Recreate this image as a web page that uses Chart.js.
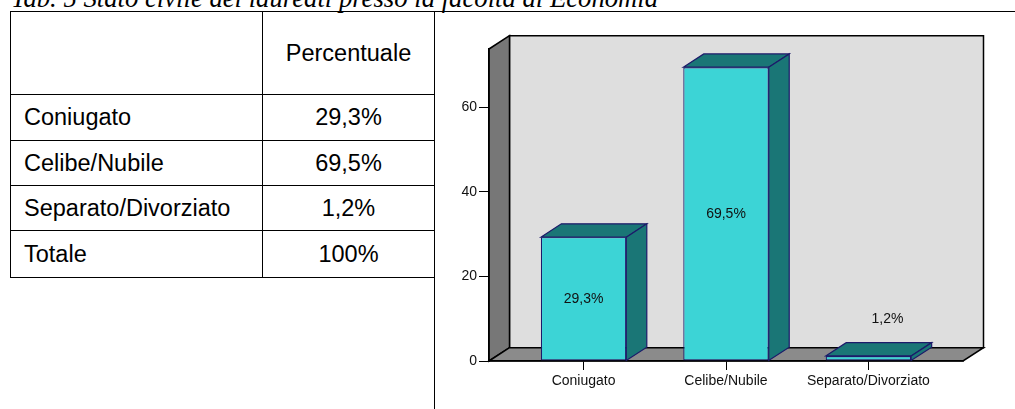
<!DOCTYPE html>
<html lang="it">
<head>
<meta charset="utf-8">
<title>Stato civile dei laureati</title>
<script src="https://cdn.jsdelivr.net/npm/chart.js@4.4.1/dist/chart.umd.min.js"></script>
<style>
  html, body { margin: 0; padding: 0; background: #fff; }
  body { width: 1015px; height: 409px; position: relative; overflow: hidden; }
  #title {
    position: absolute; left: 11px; top: -15px;
    font: italic 26.7px/27px "Liberation Serif", "Times New Roman", serif;
    white-space: nowrap; color: #000;
  }
  .rule { position: absolute; background: #000; }
  #tab {
    position: absolute; left: 10px; top: 11px;
    border-collapse: collapse; table-layout: fixed;
    font: 23.5px "Liberation Sans", Arial, sans-serif; color: #000;
  }
  #tab td { border: 1px solid #000; padding: 0; vertical-align: middle; }
  #tab td.lbl { padding-left: 13px; }
  #tab td.val { text-align: center; }
  #chart { position: absolute; left: 0; top: 0; pointer-events: none; }
</style>
</head>
<body>
<div id="title">Tab. 5 Stato civile dei laureati presso la facoltà di Economia</div>
<div class="rule" style="left:10px;top:11px;width:1005px;height:1px"></div>
<div class="rule" style="left:434px;top:11px;width:1px;height:398px"></div>
<table id="tab">
  <colgroup><col style="width:252px"><col style="width:172px"></colgroup>
  <tbody id="tab-body"></tbody>
</table>
<canvas id="chart" width="1015" height="409"></canvas>
<script>
// --- Data ---
const categories = ['Coniugato', 'Celibe/Nubile', 'Separato/Divorziato'];
const percentValues = [29.3, 69.5, 1.2];
const valueLabels = ['29,3%', '69,5%', '1,2%'];
const tableHeader = ['', 'Percentuale'];
const tableRows = [
    ['Coniugato', '29,3%'],
    ['Celibe/Nubile', '69,5%'],
    ['Separato/Divorziato', '1,2%'],
    ['Totale', '100%']
];
const yTicks = [0, 20, 40, 60];

// --- Table ---
const rowHeights = [83, 46, 45, 45, 47];
const tbody = document.getElementById('tab-body');
[tableHeader, ...tableRows].forEach((row, r) => {
    const tr = document.createElement('tr');
    tr.style.height = rowHeights[r] + 'px';
    row.forEach((text, c) => {
        const td = document.createElement('td');
        td.className = c === 0 ? 'lbl' : 'val';
        td.textContent = text;
        tr.appendChild(td);
    });
    tbody.appendChild(tr);
});

// --- 3D look ---
const DEPTH_X = 20.5;
const DEPTH_Y = 13.3;
const colors = {
    backWall: '#dedede',
    sideWall: '#777777',
    floor: '#8b8b8b',
    barFront: '#3cd4d6',
    barDark: '#1a7676',
    barEdge: '#1c1a6a'
};

function poly(ctx, pts, fill, stroke, lw) {
    ctx.beginPath();
    ctx.moveTo(pts[0][0], pts[0][1]);
    pts.slice(1).forEach(p => ctx.lineTo(p[0], p[1]));
    ctx.closePath();
    ctx.fillStyle = fill;
    ctx.fill();
    ctx.lineWidth = lw;
    ctx.strokeStyle = stroke;
    ctx.lineJoin = 'miter';
    ctx.stroke();
}

const wallsPlugin = {
    id: 'walls',
    beforeDraw(chart) {
        const { ctx, chartArea: a } = chart;
        const dx = DEPTH_X, dy = DEPTH_Y;
        ctx.save();
        // back wall
        poly(ctx, [[a.left + dx, a.top - dy], [a.right + dx, a.top - dy],
                   [a.right + dx, a.bottom - dy], [a.left + dx, a.bottom - dy]],
             colors.backWall, '#000', 1.5);
        // left wall
        poly(ctx, [[a.left, a.top], [a.left + dx, a.top - dy],
                   [a.left + dx, a.bottom - dy], [a.left, a.bottom]],
             colors.sideWall, '#000', 1.5);
        // floor
        poly(ctx, [[a.left, a.bottom], [a.left + dx, a.bottom - dy],
                   [a.right + dx, a.bottom - dy], [a.right, a.bottom]],
             colors.floor, '#000', 1.5);
        ctx.restore();
    }
};

const barsPlugin = {
    id: 'bars3d',
    afterDatasetsDraw(chart) {
        const { ctx } = chart;
        const dx = DEPTH_X, dy = DEPTH_Y;
        const meta = chart.getDatasetMeta(0);
        ctx.save();
        meta.data.forEach((bar, i) => {
            const { x, y, base, width } = bar.getProps(['x', 'y', 'base', 'width'], true);
            const l = x - width / 2, r = x + width / 2;
            // top face
            poly(ctx, [[l, y], [l + dx, y - dy], [r + dx, y - dy], [r, y]],
                 colors.barDark, colors.barEdge, 1.2);
            // side face
            poly(ctx, [[r, y], [r + dx, y - dy], [r + dx, base - dy], [r, base]],
                 colors.barDark, colors.barEdge, 1.2);

            // value label
            ctx.fillStyle = '#111';
            ctx.font = '14px "Liberation Sans", Arial, sans-serif';
            ctx.textAlign = 'center';
            ctx.textBaseline = 'middle';
            if (base - y > 30) {
                ctx.fillText(valueLabels[i], x, (y + base) / 2);
            } else {
                ctx.fillText(valueLabels[i], x + dx * 0.93, y - 37);
            }
        });
        ctx.restore();
    }
};

new Chart(document.getElementById('chart'), {
    type: 'bar',
    data: {
        datasets: [{
            data: percentValues.map((v, i) => ({ x: i, y: v })),
            backgroundColor: colors.barFront,
            borderColor: colors.barEdge,
            borderWidth: 1.2,
            borderSkipped: false,
            categoryPercentage: 1,
            barPercentage: 0.6
        }]
    },
    options: {
        responsive: false,
        animation: false,
        devicePixelRatio: 1,
        layout: { padding: { left: 449, right: 52, top: 49, bottom: 8 } },
        plugins: { legend: { display: false }, tooltip: { enabled: false } },
        scales: {
            x: {
                type: 'linear',
                offset: false,
                min: -0.664,
                max: 2.664,
                afterBuildTicks: (axis) => { axis.ticks = categories.map((c, i) => ({ value: i })); },
                afterFit: (axis) => { axis.height = 40; },
                ticks: {
                    callback: (v) => categories[v],
                    color: '#111',
                    font: { family: '"Liberation Sans", Arial, sans-serif', size: 14 },
                    padding: 3,
                    maxRotation: 0,
                    autoSkip: false
                },
                grid: { offset: false, drawOnChartArea: false, tickLength: 9, color: '#000', lineWidth: 1 },
                border: { display: true, color: '#000', width: 1.5 }
            },
            y: {
                min: 0,
                max: 73.8,
                afterBuildTicks: (axis) => { axis.ticks = yTicks.map(v => ({ value: v })); },
                afterFit: (axis) => { axis.width = 40; },
                ticks: {
                    color: '#111',
                    font: { family: '"Liberation Sans", Arial, sans-serif', size: 14 },
                    padding: 2
                },
                grid: { drawOnChartArea: false, tickLength: 10, color: '#000', lineWidth: 1 },
                border: { display: true, color: '#000', width: 1.5 }
            }
        }
    },
    plugins: [wallsPlugin, barsPlugin]
});
</script>
</body>
</html>
